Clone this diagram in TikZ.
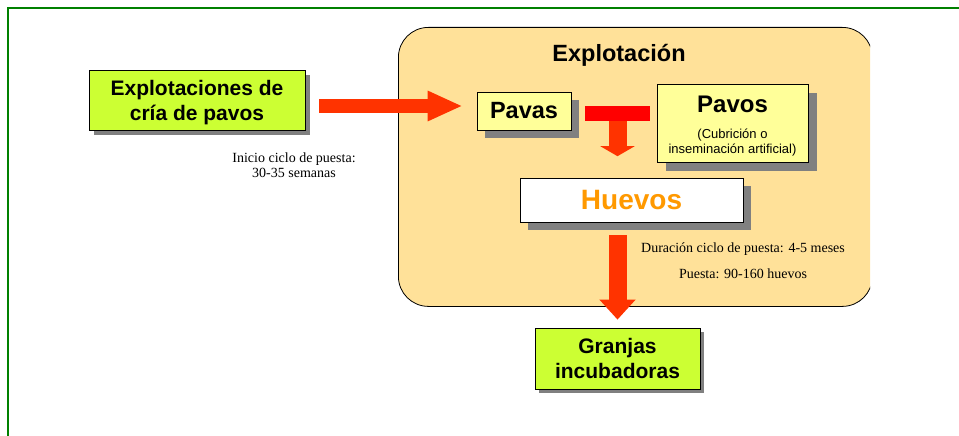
\documentclass[tikz,border=0pt]{standalone}
\usepackage{fontspec}
\setmainfont{Liberation Sans}
\newfontfamily\timesf{Liberation Serif}
\usetikzlibrary{arrows.meta,shadows,calc}

\definecolor{framegreen}{HTML}{008000}
\definecolor{limegreen}{HTML}{CCFF33}
\definecolor{paleyellow}{HTML}{FFFF99}
\definecolor{sand}{HTML}{FFE199}
\definecolor{arroworange}{HTML}{FF3300}
\definecolor{barred}{HTML}{FF0000}
\definecolor{eggorange}{HTML}{FF9900}
\definecolor{shadowgray}{HTML}{808080}

\begin{document}
\begin{tikzpicture}[x=1pt,y=-1pt,
  box/.style={draw=black, line width=0.8pt, inner sep=0pt, align=center},
  shad/.style={general shadow={fill=shadowgray, shadow xshift=#1, shadow yshift=-#1}},
  greenbox/.style={box, fill=limegreen, font=\fontsize{21}{25}\selectfont\bfseries},
  yellowbox/.style={box, fill=paleyellow},
  note/.style={font=\timesf\fontsize{14}{15}\selectfont, align=center, inner sep=0pt}
]
\useasboundingbox (0,0) rectangle (959,436);

% green frame
\draw[framegreen, line width=2pt] (8,437) -- (8,8) -- (960,8);

% big rounded area (clipped on the right)
\begin{scope}
  \clip (0,0) rectangle (870,436);
  \node[draw=black, line width=0.8pt, fill=sand, rounded corners=30pt,
        minimum width=474pt, minimum height=279pt, inner sep=0pt,
        anchor=north west] (explot) at (398,27) {};
\end{scope}
\node[font=\fontsize{23.5}{28}\selectfont\bfseries, anchor=base, inner sep=0pt]
  (title) at (619,62) {Explotación};

% boxes
\node[greenbox, shad=5pt, minimum width=216pt, minimum height=60pt]
  (cria) at (197,100) {\rule{0pt}{21pt}Explotaciones de\\cría de pavos};
\node[yellowbox, shad=8pt, minimum width=94pt, minimum height=38pt,
      font=\fontsize{23.5}{28}\selectfont\bfseries]
  (pavas) at (524,111) {Pavas};
\node[yellowbox, shad=9pt, minimum width=151pt, minimum height=78pt]
  (pavos) at (732.5,123) {};
\node[font=\fontsize{24}{28}\selectfont\bfseries, anchor=base, inner sep=0pt]
  (pavosT) at (732.5,112) {Pavos};
\node[font=\fontsize{13}{15}\selectfont, align=center, inner sep=0pt]
  (pavosS) at (732.5,143) {(Cubrición o\\inseminación artificial)};
\node[box, fill=white, shad=8pt, minimum width=223pt, minimum height=44pt,
      font=\fontsize{28}{32}\selectfont\bfseries, text=eggorange]
  (huevos) at (631.5,200) {Huevos};
\node[greenbox, shad=4pt, minimum width=165pt, minimum height=61pt]
  (granjas) at (617.5,358.5) {Granjas\\incubadoras};

% T bar
\node[fill=barred, minimum width=65pt, minimum height=15pt, inner sep=0pt]
  (tbar) at (617.5,113.5) {};

% arrows
\coordinate (a1y) at (0,106);
\coordinate (a1s) at ([xshift=14pt]cria.east);
\coordinate (a1e) at ([xshift=-14pt]pavas.west);
\draw[arroworange, line width=14pt, -{Triangle[length=35pt,width=28pt]}]
  (a1s |- a1y) -- (a1e |- a1y);

\coordinate (t1) at ($(tbar.south)+(0,35)$);
\draw[arroworange, line width=18pt, -{Triangle[length=10pt,width=34pt]}]
  (tbar.south) -- (t1);

\coordinate (d1) at ($(tbar.south |- huevos.south)+(0,13)$);
\coordinate (d2) at ($(tbar.south |- granjas.north)+(0,-8)$);
\draw[arroworange, line width=18pt, -{Triangle[length=20pt,width=35pt]}]
  (d1) -- (d2);

% notes
\node[note] (inicio) at (294,165) {Inicio ciclo de puesta:\\30-35 semanas};
\node[note, anchor=base] (duracion) at (743,252) {Duración ciclo de puesta: 4-5 meses};
\node[note, anchor=base] (puesta) at (743,278) {Puesta: 90-160 huevos};
\end{tikzpicture}
\end{document}
